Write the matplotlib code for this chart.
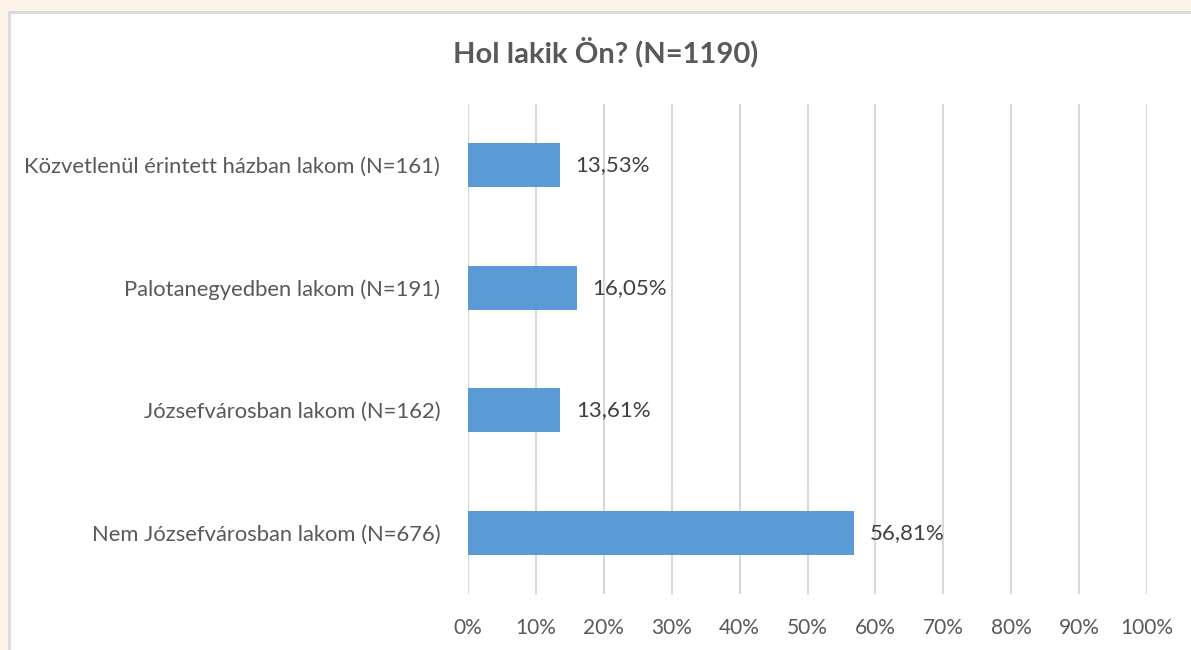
import matplotlib.pyplot as plt
from matplotlib.patches import Rectangle

categories = [
    "Nem Józsefvárosban lakom (N=676)",
    "Józsefvárosban lakom (N=162)",
    "Palotanegyedben lakom (N=191)",
    "Közvetlenül érintett házban lakom (N=161)",
]
values = [56.81, 13.61, 16.05, 13.53]
ticks = [0, 10, 20, 30, 40, 50, 60, 70, 80, 90, 100]

plt.rcParams['font.family'] = ['Lato', 'DejaVu Sans']

W, H = 1191, 650
fig = plt.figure(figsize=(W / 100, H / 100), dpi=100)
fig.patch.set_facecolor('#fdf3e8')

# white chart area with grey border
fig.patches.append(Rectangle((9 / W, -0.1), 1.2, 1.1 - 12 / H, transform=fig.transFigure,
                             facecolor='white', edgecolor='#d9d9d9', linewidth=2, zorder=-5))

ax = fig.add_axes([468 / W, 1 - 594 / H, (1147 - 468) / W, (594 - 104) / H])
ax.set_facecolor('none')

y = range(len(categories))
ax.barh(y, values, height=0.36, color='#5b9bd5', zorder=3)
for yi, v in zip(y, values):
    ax.text(v + 2.3, yi, f"{v:.2f}%".replace('.', ','), va='center', ha='left',
            fontsize=16, color='#404040')

ax.set_xlim(0, 100)
ax.set_ylim(-0.5, len(categories) - 0.5)
ax.set_xticks(ticks)
ax.set_xticklabels([f"{t}%" for t in ticks])
ax.set_yticks(list(y))
ax.set_yticklabels(categories)
ax.tick_params(axis='both', length=0, labelcolor='#595959')
ax.tick_params(axis='x', pad=17, labelsize=15)
ax.tick_params(axis='y', pad=20, labelsize=15.8)
ax.grid(axis='x', color='#d9d9d9', linewidth=1.5, zorder=0)
for s in ax.spines.values():
    s.set_visible(False)

fig.text(606 / W, 1 - 52 / H, "Hol lakik Ön? (N=1190)", ha='center', va='center',
         fontsize=21, fontweight='bold', color='#595959')

fig.savefig('out.png', dpi=100)
